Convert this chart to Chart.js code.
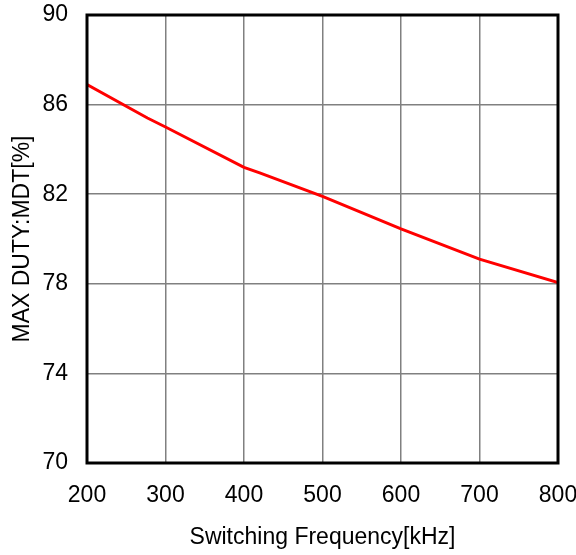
<!DOCTYPE html>
<html>
<head>
<meta charset="utf-8">
<script src="https://cdn.jsdelivr.net/npm/chart.js@4"></script>
<style>
  body { margin: 0; background: #fff; }
  #wrap { width: 576px; height: 555px; }
</style>
</head>
<body>
<div id="wrap"><canvas id="graphCanvas"></canvas></div>
<script>
// values
var frekuensi = [200, 277, 300, 400, 420, 500, 600, 700, 800];
var dutyMax = [86.9, 85.4, 85.0, 83.2, 82.95, 81.9, 80.45, 79.1, 78.05];
var xTicks = [200, 300, 400, 500, 600, 700, 800];
var yTicks = [70, 74, 78, 82, 86, 90];

var titikData = [];
for (var i in frekuensi) {
  titikData.push({ x: frekuensi[i], y: dutyMax[i] });
}

var fontTeks = { family: "'Liberation Sans', Arial, sans-serif", size: 23 };

// black frame round the plot area
var bingkai = {
  id: 'bingkai',
  afterDatasetsDraw: function (chart) {
    var a = chart.chartArea;
    var ctx = chart.ctx;
    ctx.save();
    ctx.strokeStyle = '#000';
    ctx.lineWidth = 3;
    ctx.strokeRect(a.left, a.top, a.right - a.left, a.bottom - a.top);
    ctx.restore();
  }
};

var graphTarget = document.getElementById('graphCanvas');
var lineGraph = new Chart(graphTarget, {
  type: 'line',
  data: {
    datasets: [
      {
        label: 'MDT',
        data: titikData,
        borderColor: '#ff0000',
        borderWidth: 3,
        pointRadius: 0,
        tension: 0,
        fill: false
      }
    ]
  },
  options: {
    responsive: true,
    maintainAspectRatio: false,
    animation: false,
    devicePixelRatio: 1,
    layout: { padding: { left: 0, right: 18, top: 15, bottom: 0 } },
    plugins: {
      legend: { display: false },
      tooltip: { enabled: false }
    },
    scales: {
      x: {
        type: 'linear',
        min: 200,
        max: 800,
        afterBuildTicks: function (scale) {
          scale.ticks = xTicks.map(function (v) { return { value: v }; });
        },
        afterFit: function (scale) {
          scale.height = 92;
          scale.paddingLeft = 0;
          scale.paddingRight = 0;
        },
        grid: { color: '#808080', lineWidth: 1.5, drawTicks: false },
        border: { display: false },
        ticks: { color: '#000', font: fontTeks, padding: 19, maxRotation: 0 },
        title: {
          display: true,
          text: 'Switching Frequency[kHz]',
          color: '#000',
          font: fontTeks,
          padding: { top: 0, bottom: 4 }
        }
      },
      y: {
        min: 70,
        max: 90,
        afterBuildTicks: function (scale) {
          scale.ticks = yTicks.map(function (v) { return { value: v }; });
        },
        afterFit: function (scale) {
          scale.width = 87;
          scale.paddingTop = 0;
          scale.paddingBottom = 0;
        },
        grid: { color: '#808080', lineWidth: 1.5, drawTicks: false },
        border: { display: false },
        ticks: { color: '#000', font: fontTeks, padding: 19 },
        title: {
          display: true,
          text: 'MAX DUTY:MDT[%]',
          color: '#000',
          font: fontTeks,
          padding: { top: 9, bottom: 0 }
        }
      }
    }
  },
  plugins: [bingkai]
});
</script>
</body>
</html>
